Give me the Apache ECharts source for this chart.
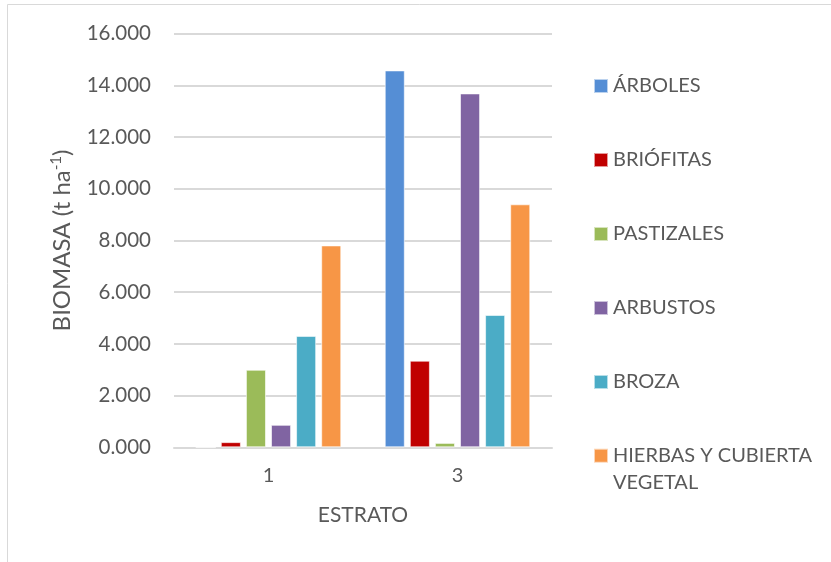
<!DOCTYPE html>
<html>
<head>
<meta charset="utf-8">
<script src="https://cdn.jsdelivr.net/npm/echarts@6/dist/echarts.min.js"></script>
<style>
  html, body { margin: 0; padding: 0; background: #fff; }
  #chart { width: 831px; height: 562px; }
</style>
</head>
<body>
<div id="chart"></div>
<script>
// Biomasa por estrato y componente (t ha-1)
const estratos = ['1', '3'];
const componentes = ['ÁRBOLES', 'BRIÓFITAS', 'PASTIZALES', 'ARBUSTOS', 'BROZA', 'HIERBAS Y CUBIERTA VEGETAL'];
const arboles    = [0, 14.58];
const briofitas  = [0.20, 3.35];
const pastizales = [3.00, 0.17];
const arbustos   = [0.87, 13.69];
const broza      = [4.31, 5.12];
const hierbas    = [7.81, 9.40];
const yTickLabels = ['0.000', '2.000', '4.000', '6.000', '8.000', '10.000', '12.000', '14.000', '16.000'];

const colores = ['#558ED5', '#C00000', '#9BBB59', '#8064A2', '#4BACC6', '#F79646'];
const valores = [arboles, briofitas, pastizales, arbustos, broza, hierbas];

const FONT = 'Lato';
const GRIS = '#595959';

const chart = echarts.init(document.getElementById('chart'), null, { renderer: 'canvas' });

const series = componentes.map((nombre, i) => ({
  name: nombre,
  type: 'bar',
  data: valores[i],
  barGap: '25%',
  barCategoryGap: '23%',
  itemStyle: { color: colores[i], borderColor: 'rgba(255,255,255,0.6)', borderWidth: 1 },
  emphasis: { disabled: true }
}));

const legendText = { color: GRIS, fontFamily: FONT, fontSize: 20, lineHeight: 27 };

chart.setOption({
  animation: false,
  backgroundColor: '#fff',
  graphic: [{
    type: 'rect',
    shape: { x: 7.5, y: 4.5, width: 900, height: 700 },
    style: { fill: 'none', stroke: '#d9d9d9', lineWidth: 1 },
    silent: true
  }],
  grid: { left: 174, right: 279, top: 33.7, bottom: 114.7 },
  legend: [{
    orient: 'vertical',
    left: 593,
    top: 72.5,
    padding: 0,
    itemWidth: 14,
    itemHeight: 14,
    itemGap: 47,
    icon: 'rect',
    data: componentes.slice(0, 5),
    textStyle: legendText
  }, {
    orient: 'vertical',
    left: 593,
    top: 415.2,
    padding: 0,
    itemWidth: 14,
    itemHeight: 14,
    icon: 'rect',
    data: componentes.slice(5),
    formatter: () => '\nHIERBAS Y CUBIERTA\nVEGETAL',
    textStyle: legendText
  }],
  xAxis: {
    type: 'category',
    data: estratos,
    name: 'ESTRATO',
    nameLocation: 'middle',
    nameGap: 57,
    nameTextStyle: { color: GRIS, fontFamily: FONT, fontSize: 21 },
    axisLine: { lineStyle: { color: '#d9d9d9', width: 2 } },
    axisTick: { show: false },
    axisLabel: { color: GRIS, fontFamily: FONT, fontSize: 20, margin: 18 }
  },
  yAxis: {
    type: 'value',
    min: 0,
    max: 16,
    interval: 2,
    name: 'BIOMASA (t ha{sup|-1})',
    nameLocation: 'middle',
    nameGap: 99,
    nameTextStyle: {
      color: GRIS, fontFamily: FONT, fontSize: 24,
      rich: { sup: { color: GRIS, fontFamily: FONT, fontSize: 15, verticalAlign: 'top', padding: [0, 0, 11, 0] } }
    },
    axisLine: { show: false },
    axisTick: { show: false },
    splitLine: { lineStyle: { color: '#d9d9d9', width: 2 } },
    axisLabel: {
      color: GRIS, fontFamily: FONT, fontSize: 20.5, margin: 23,
      formatter: v => yTickLabels[Math.round(v / 2)]
    }
  },
  series: series
});
</script>
</body>
</html>
